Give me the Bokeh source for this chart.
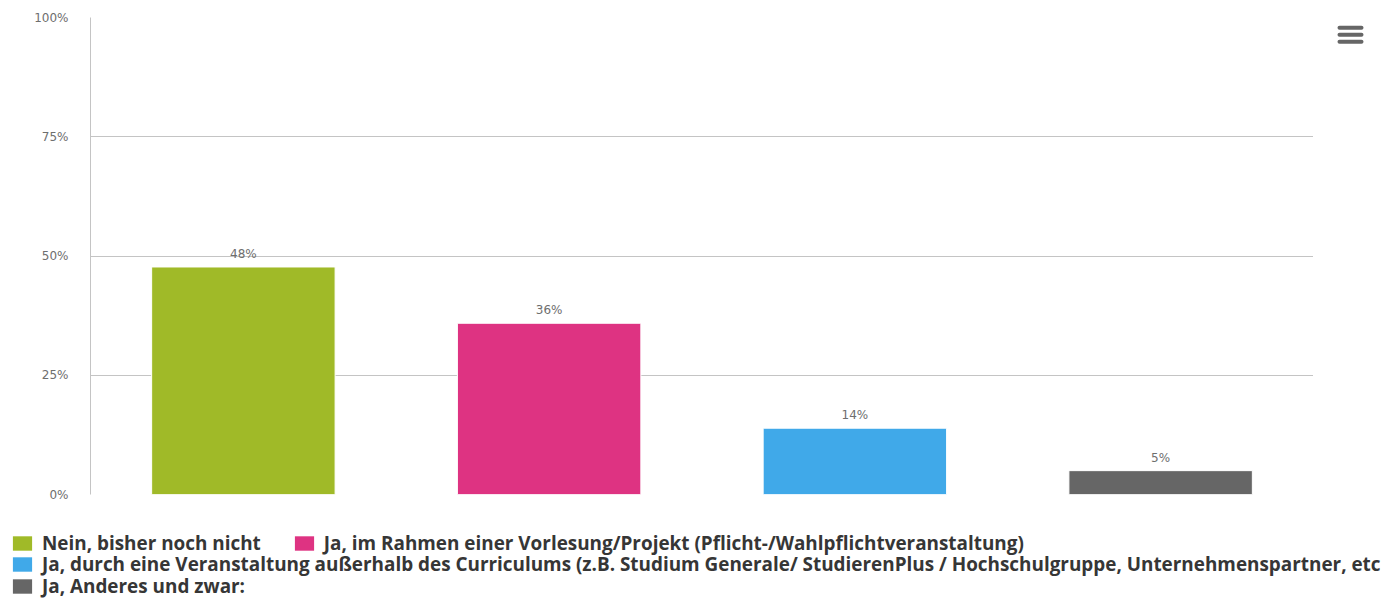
from bokeh.plotting import figure
from bokeh.models import (ColumnDataSource, FactorRange, Range1d, FixedTicker, Legend,
                          LegendItem, LabelSet)
from bokeh.layouts import column, row
from bokeh.core.properties import value
from bokeh.embed import file_html
from bokeh.resources import INLINE

categories = [
    "Nein, bisher noch nicht",
    "Ja, im Rahmen einer Vorlesung/Projekt (Pflicht-/Wahlpflichtveranstaltung)",
    "Ja, durch eine Veranstaltung außerhalb des Curriculums (z.B. Studium Generale/ StudierenPlus / Hochschulgruppe, Unternehmenspartner, etc",
    "Ja, Anderes und zwar:",
]
values = [47.7, 35.9, 13.9, 5.0]
value_labels = ["48%", "36%", "14%", "5%"]
colors = ["#a0ba28", "#de3382", "#40a9e9", "#666666"]
y_ticks = [0, 25, 50, 75, 100]
y_tick_labels = ["0%", "25%", "50%", "75%", "100%"]

src = ColumnDataSource(dict(cat=categories, val=values, lab=value_labels, col=colors))

W_MAIN, H_MAIN = 1313, 510
W_ICON = 56
W_ALL = 1385
H_LEG = 90

p = figure(width=W_MAIN, height=H_MAIN, output_backend="svg", toolbar_location=None,
           x_range=FactorRange(*categories, range_padding=0),
           y_range=Range1d(0, 100),
           min_border_left=90, min_border_right=0, min_border_top=17, min_border_bottom=16)
p.outline_line_color = None

r = p.vbar(x="cat", top="val", width=0.6, source=src, fill_color="col",
           line_color="white", line_width=1)

p.xaxis.visible = False
p.xgrid.visible = False
p.ygrid.ticker = FixedTicker(ticks=y_ticks)
p.ygrid.grid_line_color = "#c4c4c4"

ya = p.yaxis[0]
ya.ticker = FixedTicker(ticks=y_ticks)
ya.major_label_overrides = {t: l for t, l in zip(y_ticks, y_tick_labels)}
ya.axis_line_color = "#c4c4c4"
ya.major_tick_line_color = None
ya.minor_tick_line_color = None
ya.major_tick_out = 0
ya.major_tick_in = 0
ya.major_label_standoff = 22
ya.major_label_text_font = "DejaVu Sans"
ya.major_label_text_font_size = "12px"
ya.major_label_text_color = "#6e6e6e"
ya.major_label_text_baseline = "top"

labels = LabelSet(x="cat", y="val", text="lab", source=src, text_align="center",
                  text_baseline="bottom", y_offset=6, text_font_size=value("12px"),
                  text_color=value("#6e6e6e"), text_font=value("DejaVu Sans"))
p.add_layout(labels)

# menu icon panel (right of the chart)
icon = figure(width=W_ICON, height=H_MAIN, output_backend="svg", toolbar_location=None,
              x_range=Range1d(0, W_ICON), y_range=Range1d(H_MAIN, 0),
              min_border=0)
icon.axis.visible = False
icon.grid.visible = False
icon.outline_line_color = None
icon.multi_line(xs=[[26, 48]] * 3, ys=[[11, 11], [18.5, 18.5], [26, 26]],
                line_color="#666666", line_width=4, line_cap="round")

# legend panel
leg = figure(width=W_ALL, height=H_LEG, output_backend="svg", toolbar_location=None,
             x_range=FactorRange(*categories), y_range=Range1d(1000, 1100),
             min_border=0)
leg.axis.visible = False
leg.grid.visible = False
leg.outline_line_color = None
lr = leg.vbar(x="cat", top="val", width=0.6, source=src, fill_color="col", line_color=None)

items = [LegendItem(label=categories[i], renderers=[lr], index=i) for i in range(4)]

def mk_legend(its, loc):
    return Legend(items=its, location=loc, orientation="horizontal",
                  padding=0, margin=0, spacing=31, label_standoff=8,
                  glyph_width=24, glyph_height=18, label_height=18,
                  border_line_color=None, background_fill_alpha=0,
                  label_text_font="Open Sans", label_text_font_style="bold",
                  label_text_font_size="18.9px", label_text_color="#363636",
                  label_text_baseline="middle")

leg.add_layout(mk_legend(items[0:2], (10, 44)), "center")
leg.add_layout(mk_legend(items[2:3], (10, 23)), "center")
leg.add_layout(mk_legend(items[3:4], (10, 1)), "center")

layout = column(row(p, icon, spacing=0), leg, spacing=0)
open("out.html", "w").write(file_html(layout, INLINE))
